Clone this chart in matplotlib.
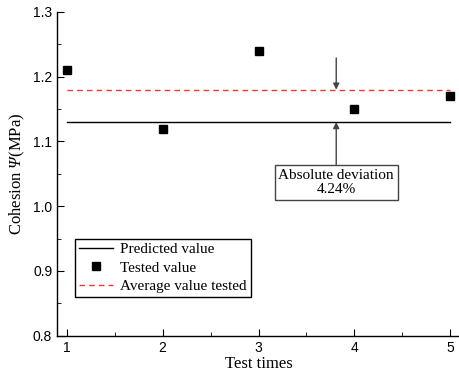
import matplotlib
matplotlib.use("Agg")
import matplotlib.pyplot as plt
from matplotlib.ticker import MultipleLocator, FormatStrFormatter

plt.rcParams.update({
    "font.family": ["Liberation Serif", "DejaVu Serif"],
    "axes.linewidth": 1.0,
    # italic serif Greek for the Psi in the y label
    "mathtext.fontset": "custom",
    "mathtext.rm": "Liberation Serif:italic",
    "mathtext.it": "Liberation Serif:italic",
})

test_times = [1, 2, 3, 4, 5]
tested = [1.21, 1.12, 1.24, 1.15, 1.17]
predicted = 1.13
average = 1.18
deviation_text = "Absolute deviation\n4.24%"
arrow_x = 3.81

fig = plt.figure(figsize=(4.6, 3.74), dpi=100)
ax = fig.add_axes([0.124, 0.1024, 0.876, 0.8656])

ax.plot([test_times[0], test_times[-1]], [predicted, predicted],
        color="black", lw=1.0, label="Predicted value")
ax.plot(test_times, tested, "s", color="black", ms=5.5, ls="none",
        label="Tested value")
ax.plot([test_times[0], test_times[-1]], [average, average],
        color="#ff3333", lw=1.0, ls=(0, (4, 3)), label="Average value tested")

# arrows marking the gap between the two lines
arrow_kw = dict(arrowstyle="-|>", color="#444444", lw=1.0, mutation_scale=9,
                shrinkA=0, shrinkB=0)
ax.annotate("", xy=(arrow_x, average), xytext=(arrow_x, 1.229), arrowprops=arrow_kw)
ax.annotate("", xy=(arrow_x, predicted), xytext=(arrow_x, 1.063), arrowprops=arrow_kw)
ax.text(arrow_x, 1.037, deviation_text, ha="center", va="center", fontsize=11,
        linespacing=1.1,
        bbox=dict(boxstyle="square,pad=0.25", fc="white", ec="#444444", lw=1.0))

ax.set_xlim(0.9, 5.1)
ax.set_ylim(0.8, 1.3)
ax.xaxis.set_major_locator(MultipleLocator(1))
ax.xaxis.set_minor_locator(MultipleLocator(0.5))
ax.yaxis.set_major_locator(MultipleLocator(0.1))
ax.yaxis.set_minor_locator(MultipleLocator(0.05))
ax.yaxis.set_major_formatter(FormatStrFormatter("%.1f"))
ax.tick_params(which="both", direction="in")
ax.tick_params(which="major", length=5)
ax.tick_params(which="minor", length=3)
for lab in ax.get_xticklabels() + ax.get_yticklabels():
    lab.set_fontfamily("Liberation Sans")
    lab.set_fontsize(10)
ax.spines["top"].set_visible(False)
ax.spines["right"].set_visible(False)

ax.set_xlabel("Test times", fontsize=12, labelpad=1)
ax.set_ylabel(r"Cohesion $\Psi$(MPa)", fontsize=12, labelpad=4)

leg = ax.legend(loc="lower left", bbox_to_anchor=(0.045, 0.12), borderaxespad=0,
                fontsize=11, fancybox=False, edgecolor="black", framealpha=1,
                handlelength=2.2, borderpad=0.25, labelspacing=0.3,
                handletextpad=0.5)
leg.get_frame().set_linewidth(1.0)

fig.savefig("out.png", dpi=100)
